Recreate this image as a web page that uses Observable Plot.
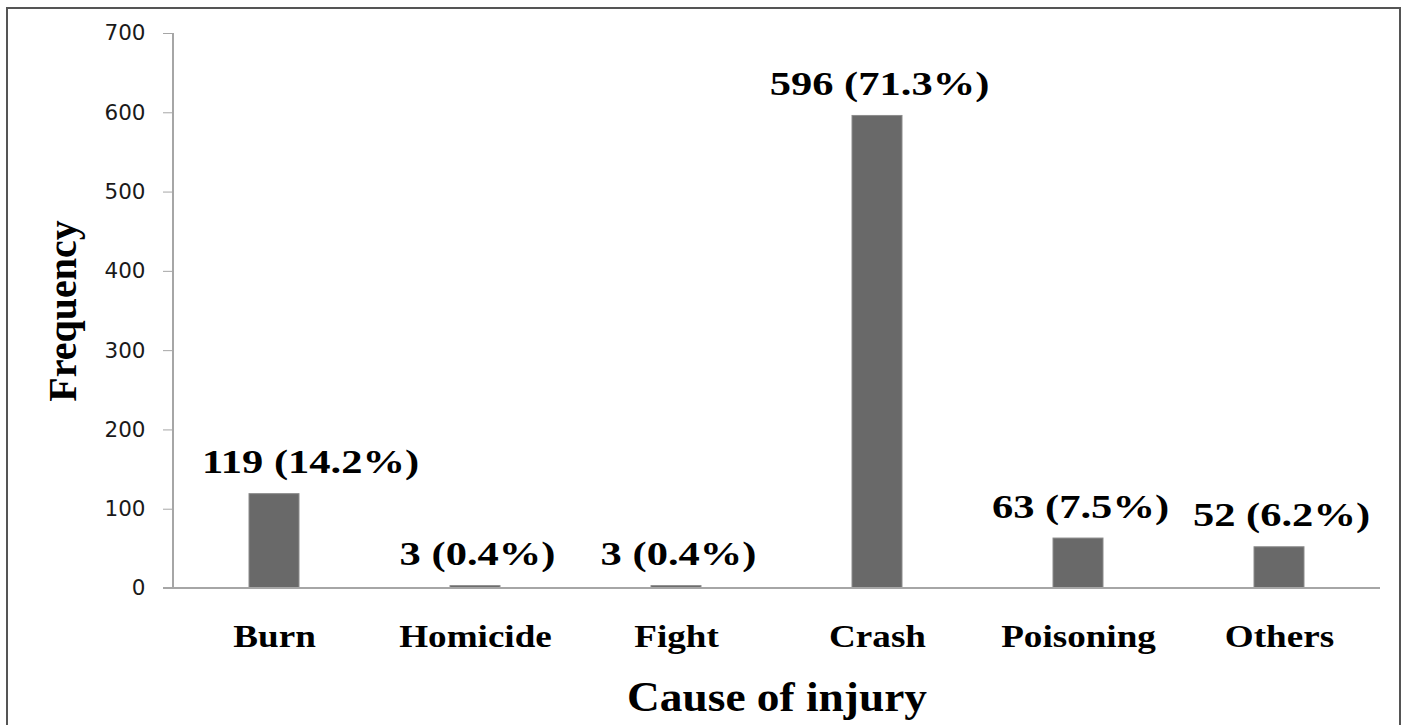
<!DOCTYPE html>
<html>
<head>
<meta charset="utf-8">
<script src="https://cdn.jsdelivr.net/npm/d3@7"></script>
<script src="https://cdn.jsdelivr.net/npm/@observablehq/plot@0.6"></script>
<style>
  html, body { margin: 0; padding: 0; background: #fff; }
  #wrap { position: relative; width: 1407px; height: 725px; overflow: hidden; }
  #border { position: absolute; left: 6px; top: 7px; width: 1395px; height: 740px; border: 2px solid #555; box-sizing: border-box; }
  #chart { position: absolute; left: 0; top: 0; }
</style>
</head>
<body>
<div id="wrap"><div id="border"></div><div id="chart"></div></div>
<script>
const categories = ["Burn", "Homicide", "Fight", "Crash", "Poisoning", "Others"];
const frequencies = [119, 3, 3, 596, 63, 52];
const percents = ["14.2", "0.4", "0.4", "71.3", "7.5", "6.2"];
const yTicks = [0, 100, 200, 300, 400, 500, 600, 700];
const xTitle = "Cause of injury";
const yTitle = "Frequency";

const data = categories.map((c, i) => ({
  cause: c,
  value: frequencies[i],
  label: `${frequencies[i]} (${percents[i]}%)`
}));

const serif = "'Liberation Serif', 'Times New Roman', serif";
const labelStyle = { x: "cause", y: "value", text: "label", lineAnchor: "bottom",
  fontSize: 34, fontWeight: "bold", fontFamily: serif, fill: "#000" };

const chart = Plot.plot({
  width: 1407,
  height: 725,
  marginLeft: 173,
  marginRight: 27,
  marginTop: 33,
  marginBottom: 137,
  style: { background: "transparent", overflow: "visible" },
  x: { domain: categories, paddingInner: 0.75, paddingOuter: 0.375 },
  y: { domain: [0, 700] },
  marks: [
    Plot.barY(data, { x: "cause", y: "value", fill: "#696969", stroke: "#8c8c8c", strokeWidth: 1 }),
    Plot.axisY({ ticks: yTicks, tickSize: 10, tickPadding: 18, stroke: "#a6a6a6", fill: "#1a1a1a", label: null,
      fontSize: 21.5, fontFamily: "'DejaVu Sans', Verdana, sans-serif" }),
    Plot.axisX({ tickSize: 0, tickPadding: 36, label: null, fill: "#000", fontSize: 32, fontWeight: "bold", fontFamily: serif }),
    // data labels: the first one sits shifted to the right, as in the reference
    Plot.text(data.slice(0, 1), { ...labelStyle, dy: -21, dx: 36 }),
    Plot.text(data.slice(1), { ...labelStyle, dy: -21, dx: 2 }),
    Plot.text([xTitle], { frameAnchor: "bottom", dy: 109, lineAnchor: "middle", fontSize: 42, fontWeight: "bold", fontFamily: serif, fill: "#000" }),
    Plot.text([yTitle], { frameAnchor: "left", dx: -110, rotate: -90, textAnchor: "middle", lineAnchor: "middle", fontSize: 40, fontWeight: "bold", fontFamily: serif, fill: "#000" })
  ]
});

// axis lines derived from the scales
const xs = chart.scale("x"), ys = chart.scale("y");
const x0 = xs.range[0], x1 = xs.range[1];
const svg = d3.select(chart);
svg.append("line").attr("x1", x0).attr("x2", x0).attr("y1", ys.apply(0)).attr("y2", ys.apply(700))
  .attr("stroke", "#a6a6a6").attr("stroke-width", 2);
svg.append("line").attr("x1", x0 - 10).attr("x2", x1).attr("y1", ys.apply(0)).attr("y2", ys.apply(0))
  .attr("stroke", "#a6a6a6").attr("stroke-width", 2);

document.getElementById("chart").appendChild(chart);

// horizontal stretch of the serif text, as in the reference raster
function stretch(sel, k) {
  sel.each(function () {
    const len = this.getComputedTextLength();
    this.setAttribute("textLength", (len * k).toFixed(1));
    this.setAttribute("lengthAdjust", "spacingAndGlyphs");
  });
}
stretch(svg.selectAll('g[aria-label="x-axis tick label"] text'), 1.16);
const textGroups = svg.selectAll('g[aria-label="text"]').nodes();
stretch(d3.select(textGroups[0]).selectAll("text"), 1.25);
stretch(d3.select(textGroups[1]).selectAll("text"), 1.25);
stretch(d3.select(textGroups[2]).selectAll("text"), 1.08);
</script>
</body>
</html>
